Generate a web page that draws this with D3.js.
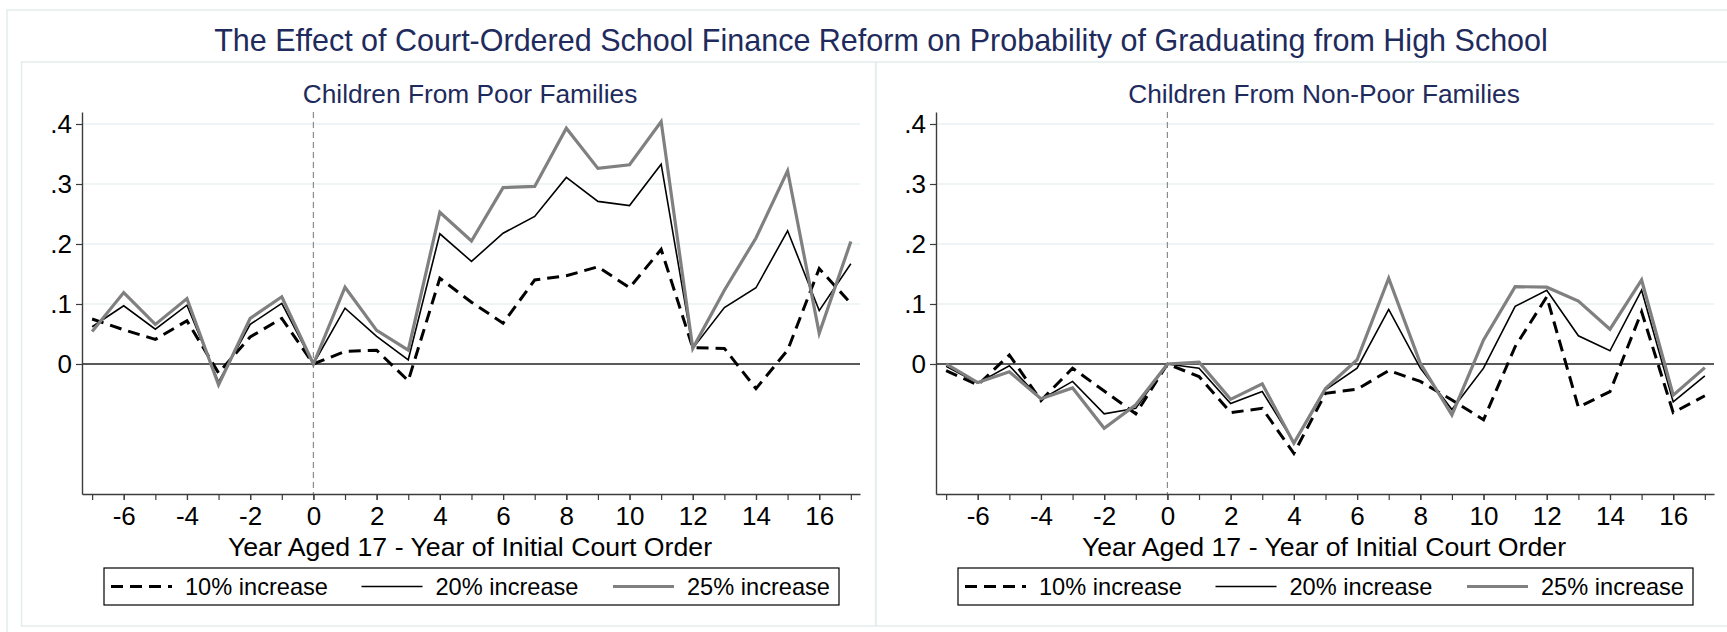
<!DOCTYPE html>
<html>
<head>
<meta charset="utf-8">
<style type="text/css">
    body {
        margin: 0;
        background: #ffffff;
    }
    text {
        font-family: "Liberation Sans", Arial, sans-serif;
    }
    .title {
        fill: #1e2b5c;
    }
    .frame {
        fill: none;
        stroke: #e4eded;
        stroke-width: 1.5;
    }
</style>
</head>
<body>
<script src="https://d3js.org/d3.v7.min.js"></script>
<script type="text/javascript">

    var years = [-7, -6, -5, -4, -3, -2, -1, 0, 1, 2, 3, 4, 5, 6, 7, 8, 9, 10, 11, 12, 13, 14, 15, 16, 17];

    // children from poor families
    var poor10 = [0.075, 0.057, 0.041, 0.072, -0.015, 0.045, 0.076, 0, 0.021, 0.023, -0.028, 0.143, 0.103,
        0.068, 0.140, 0.147, 0.162, 0.127, 0.191, 0.027, 0.026, -0.041, 0.023, 0.159, 0.101];
    var poor20 = [0.062, 0.097, 0.058, 0.098, -0.030, 0.066, 0.101, 0, 0.093, 0.046, 0.007, 0.217, 0.171,
        0.218, 0.246, 0.311, 0.271, 0.264, 0.333, 0.026, 0.094, 0.127, 0.222, 0.089, 0.167];
    var poor25 = [0.054, 0.119, 0.066, 0.109, -0.035, 0.076, 0.112, 0, 0.128, 0.056, 0.023, 0.253, 0.205,
        0.294, 0.296, 0.393, 0.326, 0.332, 0.404, 0.026, 0.123, 0.210, 0.322, 0.051, 0.204];

    // children from non-poor families
    var nonpoor10 = [-0.011, -0.035, 0.015, -0.061, -0.007, -0.045, -0.083, 0, -0.021, -0.081, -0.074, -0.149, -0.049,
        -0.042, -0.011, -0.029, -0.060, -0.093, 0.029, 0.112, -0.072, -0.046, 0.087, -0.081, -0.053];
    var nonpoor20 = [-0.004, -0.032, -0.003, -0.059, -0.029, -0.083, -0.074, 0, -0.007, -0.066, -0.046, -0.131, -0.043,
        -0.007, 0.091, -0.007, -0.076, -0.007, 0.096, 0.123, 0.047, 0.022, 0.123, -0.063, -0.020];
    var nonpoor25 = [0, -0.031, -0.013, -0.058, -0.040, -0.107, -0.068, 0, 0.003, -0.059, -0.033, -0.132, -0.041,
        0.007, 0.143, 0.001, -0.085, 0.040, 0.129, 0.128, 0.105, 0.058, 0.140, -0.052, -0.006];

    var yTicks = [0, 0.1, 0.2, 0.3, 0.4];
    var yTickLabels = ["0", ".1", ".2", ".3", ".4"];
    var xTicks = [-6, -4, -2, 0, 2, 4, 6, 8, 10, 12, 14, 16];
    var seriesNames = ["10% increase", "20% increase", "25% increase"];

    var mainTitle = "The Effect of Court-Ordered School Finance Reform on Probability of Graduating from High School";
    var xTitle = "Year Aged 17 - Year of Initial Court Order";

    var width = 1727, height = 632;

    var styles = [
        { color: "#000000", width: 3, dash: "12,7" },
        { color: "#000000", width: 1.6, dash: null },
        { color: "#808080", width: 3.2, dash: null }
    ];

    var svg = d3.select("body").append("svg")
        .attr("width", width)
        .attr("height", height);

    // outer graph region
    svg.append("rect")
        .attr("class", "frame")
        .attr("x", 7).attr("y", 10)
        .attr("width", width).attr("height", height);

    svg.append("text")
        .attr("class", "title")
        .attr("x", 881)
        .attr("y", 51)
        .attr("text-anchor", "middle")
        .style("font-size", "30.5px")
        .text(mainTitle);

    var panels = [
        { title: "Children From Poor Families", series: [poor10, poor20, poor25], dx: 0 },
        { title: "Children From Non-Poor Families", series: [nonpoor10, nonpoor20, nonpoor25], dx: 854 }
    ];

    panels.forEach(function (p) {
        var g = svg.append("g").attr("transform", "translate(" + p.dx + ",0)");

        g.append("rect")
            .attr("class", "frame")
            .attr("x", 21.5).attr("y", 62)
            .attr("width", 854.5).attr("height", 564);

        var x = d3.scaleLinear().domain([-7.32, 17.29]).range([82, 860]);
        var y = d3.scaleLinear().domain([-0.2167, 0.42]).range([494, 112]);

        // subtitle
        g.append("text")
            .attr("class", "title")
            .attr("x", 470)
            .attr("y", 103)
            .attr("text-anchor", "middle")
            .style("font-size", "26.3px")
            .text(p.title);

        // gridlines
        g.append("g").selectAll("line")
            .data(yTicks.slice(1))
            .enter().append("line")
            .attr("x1", x.range()[0]).attr("x2", x.range()[1])
            .attr("y1", function (d) { return y(d); })
            .attr("y2", function (d) { return y(d); })
            .style("stroke", "#eaf2f3")
            .style("stroke-width", 1.5);

        // zero line
        g.append("line")
            .attr("x1", x.range()[0]).attr("x2", x.range()[1])
            .attr("y1", y(0)).attr("y2", y(0))
            .style("stroke", "#222")
            .style("stroke-width", 1.6);

        // reform year
        g.append("line")
            .attr("x1", x(0)).attr("x2", x(0))
            .attr("y1", y.range()[1]).attr("y2", y.range()[0])
            .style("stroke", "#8c8c8c")
            .style("stroke-width", 1.2)
            .style("stroke-dasharray", "6,4");

        var line = d3.line()
            .x(function (d, i) { return x(years[i]); })
            .y(function (d) { return y(d); });

        p.series.forEach(function (s, k) {
            g.append("path")
                .datum(s)
                .attr("d", line)
                .style("fill", "none")
                .style("stroke", styles[k].color)
                .style("stroke-width", styles[k].width)
                .style("stroke-dasharray", styles[k].dash)
                .style("stroke-linejoin", "miter");
        });

        // y axis
        var yAxis = d3.axisLeft(y)
            .tickValues(yTicks)
            .tickSize(6)
            .tickSizeOuter(0)
            .tickPadding(4)
            .tickFormat(function (d, i) { return yTickLabels[i]; });

        var ya = g.append("g")
            .attr("transform", "translate(" + x.range()[0] + ",0)")
            .call(yAxis);

        // x axis, minor ticks every year
        var xMinor = d3.axisBottom(x)
            .tickValues(years)
            .tickSize(6)
            .tickSizeOuter(0);
        var xAxis = d3.axisBottom(x)
            .tickValues(xTicks)
            .tickSize(6)
            .tickSizeOuter(0)
            .tickPadding(7)
            .tickFormat(function (d) { return String(d); });

        var xa = g.append("g")
            .attr("transform", "translate(0," + y.range()[0] + ")")
            .call(xMinor);
        xa.selectAll(".tick text").remove();
        var xl = g.append("g")
            .attr("transform", "translate(0," + y.range()[0] + ")")
            .call(xAxis);
        xl.select(".domain").remove();

        [ya, xa, xl].forEach(function (a) {
            a.select(".domain").attr("stroke", "#3c3c3c").attr("stroke-width", 1.4);
            a.selectAll(".tick line").attr("stroke", "#3c3c3c").attr("stroke-width", 1.2);
            a.selectAll(".tick text")
                .style("font-size", "26px")
                .style("font-family", "'Liberation Sans', Arial, sans-serif")
                .attr("fill", "#000");
        });

        g.append("text")
            .attr("x", 470)
            .attr("y", 556)
            .attr("text-anchor", "middle")
            .style("font-size", "26.7px")
            .text(xTitle);

        // legend
        var legend = g.append("g").attr("class", "legend");
        legend.append("rect")
            .attr("x", 104).attr("y", 568)
            .attr("width", 735).attr("height", 37)
            .style("fill", "white")
            .style("stroke", "#000")
            .style("stroke-width", 1.2);

        var keyX = [111, 361.5, 613];
        seriesNames.forEach(function (name, k) {
            legend.append("line")
                .attr("x1", keyX[k]).attr("x2", keyX[k] + 61)
                .attr("y1", 586.5).attr("y2", 586.5)
                .style("stroke", styles[k].color)
                .style("stroke-width", styles[k].width)
                .style("stroke-dasharray", styles[k].dash);
            legend.append("text")
                .attr("x", keyX[k] + 74)
                .attr("y", 595)
                .style("font-size", "23.6px")
                .text(name);
        });
    });
</script>
</body>
</html>
